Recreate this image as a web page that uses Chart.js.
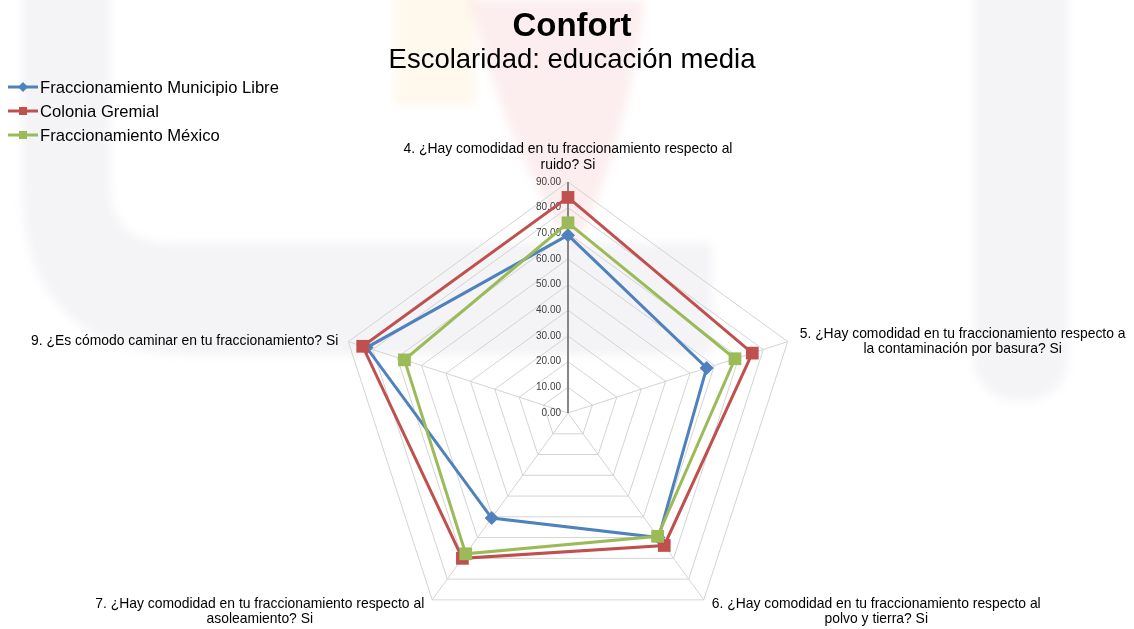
<!DOCTYPE html>
<html>
<head>
<meta charset="utf-8">
<script src="https://cdn.jsdelivr.net/npm/chart.js@4/dist/chart.umd.min.js"></script>
<style>
html,body{margin:0;padding:0;background:#fff;}
#wrap{width:1134px;height:629px;position:relative;}
</style>
</head>
<body>
<div id="wrap"><canvas id="c" width="1134" height="629"></canvas></div>
<script>
// ---- data ----
const categories = [
  ["4. ¿Hay comodidad en tu fraccionamiento respecto al", "ruido? Si"],
  ["5. ¿Hay comodidad en tu fraccionamiento respecto a", "la contaminación por basura? Si"],
  ["6. ¿Hay comodidad en tu fraccionamiento respecto al", "polvo y tierra? Si"],
  ["7. ¿Hay comodidad en tu fraccionamiento respecto al", "asoleamiento? Si"],
  ["9. ¿Es cómodo caminar en tu fraccionamiento? Si"]
];
const seriesNames = ["Fraccionamiento Municipio Libre", "Colonia Gremial", "Fraccionamiento México"];
const municipioLibre = [69.3, 56.8, 60.0, 50.6, 82.5];
const coloniaGremial = [84.0, 75.5, 63.8, 70.0, 84.1];
const fraccMexico    = [74.1, 68.4, 59.4, 67.8, 67.0];
const tickValues = [0, 10, 20, 30, 40, 50, 60, 70, 80, 90];
const titleText = "Confort";
const subtitleText = "Escolaridad: educación media";

// ---- style ----
const FONT = "'Liberation Sans', Arial, sans-serif";
const colors = ["#4F81BD", "#C0504D", "#9BBB59"];
const pointStyles = ["rectRot", "rect", "rect"];
const pointRadii = [7, 9, 9];
const CENTER = {x: 568, y: 413, r: 231};

const bgPlugin = {
  id: 'bg',
  beforeDraw(chart) {
    const ctx = chart.ctx;
    ctx.save();
    ctx.fillStyle = '#ffffff';
    ctx.fillRect(0, 0, chart.width, chart.height);
    ctx.filter = 'blur(5px)';
    // faint watermark shapes
    ctx.fillStyle = 'rgba(200,200,215,0.2)';
    ctx.beginPath();
    ctx.moveTo(22, -10);
    ctx.lineTo(110, -10);
    ctx.lineTo(110, 183);
    ctx.quadraticCurveTo(110, 243, 170, 243);
    ctx.lineTo(712, 243);
    ctx.lineTo(712, 355);
    ctx.lineTo(192, 355);
    ctx.quadraticCurveTo(22, 355, 22, 185);
    ctx.closePath();
    ctx.fill();
    ctx.beginPath();
    ctx.roundRect(974, -100, 94, 500, [0, 0, 40, 40]);
    ctx.fill();
    ctx.fillStyle = 'rgba(235,120,130,0.13)';
    ctx.beginPath();
    ctx.moveTo(470, 0); ctx.lineTo(645, 0);
    ctx.quadraticCurveTo(625, 150, 575, 250);
    ctx.quadraticCurveTo(505, 150, 470, 0);
    ctx.closePath(); ctx.fill();
    ctx.fillStyle = 'rgba(250,200,110,0.12)';
    ctx.fillRect(395, -20, 80, 125);
    ctx.restore();
  }
};

const labelPlugin = {
  id: 'labels',
  beforeDatasetsDraw(chart) {
    const ctx = chart.ctx;
    const scale = chart.scales.r;
    ctx.save();
    // tick labels
    ctx.font = "10px " + FONT;
    ctx.fillStyle = '#404040';
    ctx.textAlign = 'right';
    ctx.textBaseline = 'middle';
    tickValues.forEach(v => {
      const p = scale.getPointPositionForValue(0, v);
      ctx.fillText(v.toFixed(2), p.x - 7, p.y);
    });
    // point labels
    ctx.font = "13.9px " + FONT;
    ctx.fillStyle = '#000000';
    ctx.textAlign = 'center';
    const lh = 15.5;
    categories.forEach((lines, i) => {
      const v = scale.getPointPosition(i, scale.drawingArea);
      const w = Math.max(...lines.map(l => ctx.measureText(l).width));
      let cx, y0;
      const n = lines.length;
      if (i === 0) { cx = v.x; y0 = v.y - 17 - (n - 1) * lh; }
      else if (v.y > CENTER.y + 50) {
        cx = v.x > CENTER.x ? v.x + 8 + w / 2 : v.x - 8 - w / 2;
        y0 = v.y + 4;
      } else {
        cx = v.x > CENTER.x ? v.x + 12 + w / 2 : v.x - 10 - w / 2;
        y0 = v.y - (n - 1) * lh / 2;
      }
      lines.forEach((l, k) => ctx.fillText(l, cx, y0 + k * lh));
    });
    ctx.restore();
  },
  afterDraw(chart) {
    const ctx = chart.ctx;
    ctx.save();
    // legend
    ctx.font = "16.6px " + FONT;
    ctx.textBaseline = 'middle';
    ctx.textAlign = 'left';
    seriesNames.forEach((name, i) => {
      const y = 87 + i * 24;
      ctx.strokeStyle = colors[i];
      ctx.lineWidth = 3;
      ctx.beginPath(); ctx.moveTo(8, y); ctx.lineTo(38, y); ctx.stroke();
      ctx.fillStyle = colors[i];
      if (pointStyles[i] === 'rectRot') {
        ctx.beginPath();
        ctx.moveTo(23, y - 5); ctx.lineTo(28, y); ctx.lineTo(23, y + 5); ctx.lineTo(18, y);
        ctx.closePath(); ctx.fill();
      } else {
        ctx.fillRect(19, y - 4, 8, 8);
      }
      ctx.fillStyle = '#000';
      ctx.fillText(name, 40, y + 1);
    });
    ctx.restore();
  }
};

const datasetsData = [municipioLibre, coloniaGremial, fraccMexico];
const chart = new Chart(document.getElementById('c'), {
  type: 'radar',
  data: {
    labels: categories,
    datasets: datasetsData.map((d, i) => ({
      label: seriesNames[i],
      data: d,
      borderColor: colors[i],
      backgroundColor: colors[i],
      borderWidth: 3,
      fill: false,
      pointStyle: pointStyles[i],
      pointRadius: pointRadii[i],
      pointHoverRadius: pointRadii[i],
      pointBackgroundColor: colors[i],
      pointBorderColor: colors[i],
      pointBorderWidth: 0,
      order: 3 - i
    }))
  },
  options: {
    responsive: false,
    animation: false,
    devicePixelRatio: 1,
    layout: {padding: {left: 10}},
    plugins: {
      legend: {display: false},
      tooltip: {enabled: false},
      title: {
        display: true, text: titleText, color: '#000',
        font: {family: FONT, size: 33, weight: 'bold', lineHeight: 1.1},
        padding: {top: 9, bottom: 0}
      },
      subtitle: {
        display: true, text: subtitleText, color: '#000',
        font: {family: FONT, size: 27.5, lineHeight: 1.1},
        padding: {top: 0, bottom: 0}
      }
    },
    scales: {
      r: {
        min: 0, max: 90,
        ticks: {stepSize: 10, display: false},
        grid: {color: '#d4d4d4', lineWidth: 1},
        angleLines: {
          color: (c) => c.index === 0 ? '#868686' : '#d4d4d4',
          lineWidth: (c) => c.index === 0 ? 2 : 1
        },
        pointLabels: {display: false},
        afterUpdate(scale) {
          scale.xCenter = CENTER.x;
          scale.yCenter = CENTER.y;
          scale.drawingArea = CENTER.r;
        }
      }
    }
  },
  plugins: [bgPlugin, labelPlugin]
});
</script>
</body>
</html>
